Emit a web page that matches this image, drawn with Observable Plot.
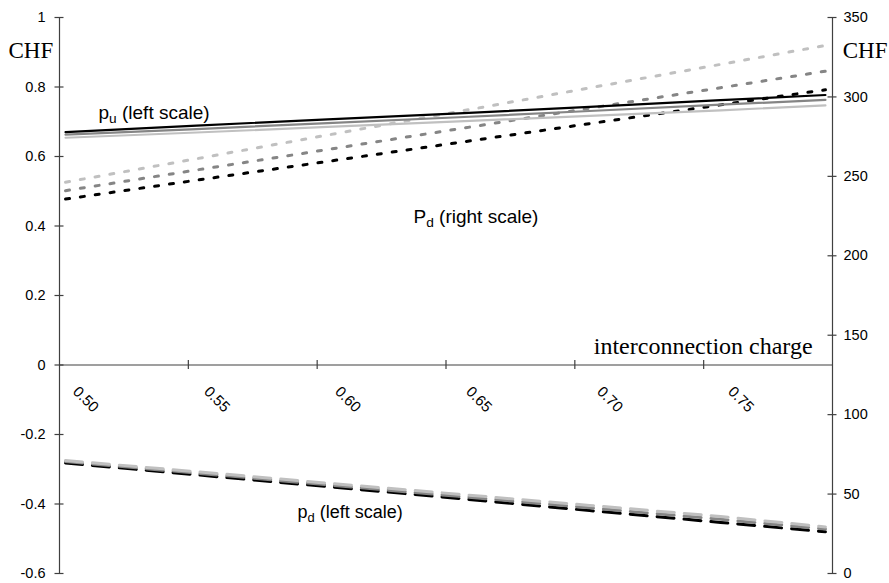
<!DOCTYPE html>
<html><head><meta charset="utf-8">
<script src="https://cdn.jsdelivr.net/npm/d3@7"></script>
<script src="https://cdn.jsdelivr.net/npm/@observablehq/plot@0.6"></script>
<style>body{margin:0;background:#fff}</style>
</head><body><div id="chart"></div>
<script>
// interconnection charge (x)
const charge = [0.50, 0.55, 0.60, 0.65, 0.70, 0.75, 0.79];
// p_u, left scale (CHF)
const puBlack = [0.670, 0.689, 0.707, 0.724, 0.743, 0.762, 0.777];
const puGray  = [0.663, 0.679, 0.696, 0.713, 0.731, 0.749, 0.763];
const puLight = [0.654, 0.669, 0.685, 0.701, 0.717, 0.733, 0.747];
// P_d, right scale (CHF)
const PdBlack = [235.7, 247.6, 259.4, 271.3, 283.2, 295.0, 304.5];
const PdGray  = [241.0, 254.0, 266.9, 279.9, 292.9, 305.8, 316.2];
const PdLight = [246.3, 261.1, 276.0, 290.8, 305.7, 320.5, 332.4];
// p_d, left scale (CHF)
const pdBlack = [-0.282, -0.316, -0.350, -0.384, -0.419, -0.453, -0.480];
const pdGray  = [-0.278, -0.311, -0.345, -0.378, -0.411, -0.444, -0.472];
const pdLight = [-0.275, -0.307, -0.340, -0.372, -0.404, -0.436, -0.466];

const leftTicks = [-0.6, -0.4, -0.2, 0, 0.2, 0.4, 0.6, 0.8, 1];
const leftTickLabels = ["-0.6", "-0.4", "-0.2", "0", "0.2", "0.4", "0.6", "0.8", "1"];
const rightTicks = [0, 50, 100, 150, 200, 250, 300, 350];
const rightTickLabels = ["0", "50", "100", "150", "200", "250", "300", "350"];
const xLabelValues = [0.50, 0.55, 0.60, 0.65, 0.70, 0.75];
const xTickLabels = ["0.50", "0.55", "0.60", "0.65", "0.70", "0.75"];

const W = 889, H = 583, ML = 59, MR = 57, MT = 17, MB = 10;
const leftDomain = [-0.6, 1];
const rightDomain = [0, 350];
const toLeft = r => leftDomain[0] + (r - rightDomain[0]) * (leftDomain[1] - leftDomain[0]) / (rightDomain[1] - rightDomain[0]);
const xDomain = [0.4977, 0.7927];
const groups = 6;
const boundaries = d3.range(1, groups).map(k => xDomain[0] + k * (xDomain[1] - xDomain[0]) / groups);
// half tick length (4.5px) expressed in scale units
const tickPx = 4.5;
const tyHalf = tickPx * (leftDomain[1] - leftDomain[0]) / (H - MT - MB);
const txHalf = tickPx * (xDomain[1] - xDomain[0]) / (W - ML - MR);

const rows = (ys, conv = v => v) => charge.map((c, i) => ({x: c, y: conv(ys[i])}));

const BLACK = "#000000", GRAY = "#858585", LIGHT = "#c0c0c0", AXIS = "#404040";
const sans = "'Liberation Sans', Arial, sans-serif";
const serif = "'Liberation Serif', 'Times New Roman', serif";

const solid = (ys, color) => Plot.line(rows(ys), {x: "x", y: "y", stroke: color, strokeWidth: 2.2});
const dotted = (ys, color) => Plot.line(rows(ys, toLeft), {x: "x", y: "y", stroke: color, strokeWidth: 3, strokeDasharray: "4,11"});
const dashed = (ys, color) => Plot.line(rows(ys), {x: "x", y: "y", stroke: color, strokeWidth: 3, strokeDasharray: "17,10"});

const chart = Plot.plot({
  width: W,
  height: H,
  marginLeft: ML,
  marginRight: MR,
  marginTop: MT,
  marginBottom: MB,
  style: {fontFamily: sans, fontSize: "14.5px", color: "#000", background: "#fff"},
  x: {type: "linear", domain: xDomain, axis: null},
  y: {type: "linear", domain: leftDomain, axis: null},
  marks: [
    // axis lines
    Plot.ruleY([0], {stroke: AXIS, strokeWidth: 1.2}),
    Plot.ruleX([xDomain[0]], {stroke: AXIS, strokeWidth: 1.2}),
    Plot.ruleX([xDomain[1]], {stroke: AXIS, strokeWidth: 1.2}),
    // cross tick marks
    Plot.ruleY(leftTicks, {y: d => d, x1: xDomain[0] - txHalf, x2: xDomain[0] + txHalf, stroke: AXIS, strokeWidth: 1.2}),
    Plot.ruleY(rightTicks, {y: d => toLeft(d), x1: xDomain[1] - txHalf, x2: xDomain[1] + txHalf, stroke: AXIS, strokeWidth: 1.2}),
    Plot.ruleX(boundaries, {x: d => d, y1: -tyHalf, y2: tyHalf, stroke: AXIS, strokeWidth: 1.2}),
    // tick labels
    Plot.text(leftTicks, {y: d => d, text: (d, i) => leftTickLabels[i], frameAnchor: "left", textAnchor: "end", dx: -14, fill: "#000"}),
    Plot.text(rightTicks, {y: d => toLeft(d), text: (d, i) => rightTickLabels[i], frameAnchor: "right", textAnchor: "start", dx: 11, fill: "#000"}),
    Plot.text(xLabelValues, {x: d => d, y: () => 0, text: (d, i) => xTickLabels[i], rotate: 45, textAnchor: "start", dx: 10, dy: 24, fontSize: 15, fill: "#000"}),
    // p_d dashed (left scale)
    dashed(pdBlack, BLACK),
    dashed(pdGray, GRAY),
    dashed(pdLight, LIGHT),
    // P_d dotted (right scale)
    dotted(PdLight, LIGHT),
    dotted(PdGray, GRAY),
    dotted(PdBlack, BLACK),
    // p_u solid (left scale)
    solid(puLight, LIGHT),
    solid(puGray, GRAY),
    solid(puBlack, BLACK),
    // annotations
    Plot.text(["p_u (left scale)"], {x: () => 0.5126, y: () => 0.726, text: d => d, textAnchor: "start", fontSize: 19, letterSpacing: 1.2, fill: "#000"}),
    Plot.text(["P_d (right scale)"], {x: () => 0.6328, y: () => 0.427, text: d => d, textAnchor: "start", fontSize: 19, letterSpacing: 1.2, fill: "#000"}),
    Plot.text(["p_d (left scale)"], {x: () => 0.5885, y: () => -0.424, text: d => d, textAnchor: "start", fontSize: 18, fill: "#000"}),
    Plot.text(["interconnection charge"], {x: () => 0.7851, y: () => 0.0527, text: d => d, textAnchor: "end", fontSize: 24, fontFamily: serif, fill: "#000"}),
    Plot.text(["CHF"], {frameAnchor: "top-left", text: d => d, textAnchor: "start", dx: -51, dy: 24, fontSize: 23, fontFamily: serif, fill: "#000"}),
    Plot.text(["CHF"], {frameAnchor: "top-right", text: d => d, textAnchor: "end", dx: 55, dy: 24, fontSize: 23, fontFamily: serif, fill: "#000"})
  ]
});

// subscripts: "p_u" -> p with subscript u
chart.querySelectorAll("text").forEach(t => {
  const s = t.textContent;
  const m = s.match(/^(.)_(.)(.*)$/);
  if (!m) return;
  const NS = "http://www.w3.org/2000/svg";
  t.textContent = "";
  t.appendChild(document.createTextNode(m[1]));
  const sub = document.createElementNS(NS, "tspan");
  sub.setAttribute("font-size", "0.72em");
  sub.setAttribute("dy", "4");
  sub.textContent = m[2];
  t.appendChild(sub);
  const rest = document.createElementNS(NS, "tspan");
  rest.setAttribute("dy", "-4");
  rest.textContent = m[3];
  t.appendChild(rest);
});

document.getElementById("chart").appendChild(chart);
</script>
</body></html>
